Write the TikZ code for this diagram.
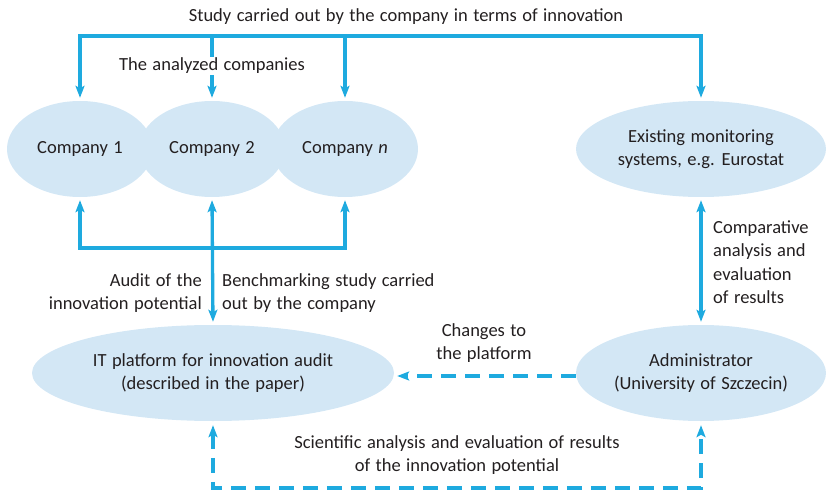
\documentclass[tikz,border=0pt]{standalone}
\usepackage{fontspec}
\setmainfont[WordSpace=1.3]{Carlito}
\usetikzlibrary{arrows.meta,shapes.geometric}
\definecolor{lineblue}{HTML}{1EAADF}
\definecolor{fillblue}{HTML}{D3E7F5}
\definecolor{txt}{HTML}{231F20}
\tikzset{
  tip/.tip={Stealth[length=12pt,width=9pt,inset=2.5pt]},
  oval/.style={ellipse, fill=fillblue, draw=none, inner sep=0pt, align=center, text=txt, font=\fontsize{18.5}{23.5}\selectfont},
  conn/.style={draw=lineblue, line width=3.3pt, -tip, shorten >=3pt},
  plain/.style={draw=lineblue, line width=3.3pt},
  dconn/.style={draw=lineblue, line width=3.3pt, dash pattern=on 15pt off 9pt},
  lbl/.style={text=txt, font=\fontsize{18.5}{23.5}\selectfont, inner sep=1pt},
}
\begin{document}
\begin{tikzpicture}[x=1pt,y=-1pt]
\useasboundingbox (0,0) rectangle (830,492);
% ellipses
\node[oval, minimum width=146pt, minimum height=96pt] (c1) at (80,149) {Company 1};
\node[oval, minimum width=146pt, minimum height=96pt] (c2) at (212,149) {Company 2};
\node[oval, minimum width=146pt, minimum height=96pt] (c3) at (345,149) {Company \textit{n}};
\node[oval, minimum width=250pt, minimum height=96pt] (ex) at (701,149) {Existing monitoring\\systems, e.g. Eurostat};
\node[oval, minimum width=362pt, minimum height=96pt] (it) at (213,373) {IT platform for innovation audit\\(described in the paper)};
\node[oval, minimum width=250pt, minimum height=96pt] (ad) at (701,373) {Administrator\\(University of Szczecin)};
% top distribution
\node[lbl] (title) at (406,17) {Study carried out by the company in terms of innovation};
\coordinate (t1) at (80,36);
\coordinate (t2) at (212,36);
\coordinate (t3) at (345,36);
\coordinate (t4) at (701,36);
\draw[plain] ([xshift=-1.65pt]t1) -- ([xshift=1.65pt]t4);
\draw[conn] (t1) -- (c1.north);
\draw[conn] (t2) -- (c2.north);
\draw[conn] (t3) -- (c3.north);
\draw[conn] (t4) -- (ex.north);
\node[lbl, fill=white] (an) at (212,66) {The analyzed companies};
% bottom of companies
\coordinate (b1) at (80,248);
\coordinate (b3) at (345,248);
\draw[plain] ([xshift=-1.65pt]b1) -- ([xshift=1.65pt]b3);
\draw[conn] (b1) -- (c1.south);
\draw[conn] (b3) -- (c3.south);
\draw[conn, tip-tip, shorten <=3pt] (c2.south) -- (it.north);
\node[lbl, anchor=east, align=right] (aud) at (203,293) {Audit of the\\innovation potential};
\node[lbl, anchor=west, align=left] (ben) at (221,293) {Benchmarking study carried\\out by the company};
% right
\draw[conn, tip-tip, shorten <=3pt] (ex.south) -- (ad.north);
\node[lbl, anchor=west, align=left] (cmp) at (712,262) {Comparative\\analysis and\\evaluation\\of results};
% changes
\draw[dconn, -tip, shorten >=3pt] ([yshift=-3pt]ad.west) -- ([yshift=-3pt]it.east);
\node[lbl, align=center] (chg) at (484,343) {Changes to\\the platform};
% bottom dashed loop
\coordinate (l1) at (213,488);
\coordinate (l2) at (701,488);
\draw[dconn, tip-tip, shorten <=4pt, shorten >=4pt] (it.south) -- (l1) -- (l2) -- (ad.south);
\node[lbl, align=center] (sci) at (457,455) {Scientific analysis and evaluation of results\\of the innovation potential};
\end{tikzpicture}
\end{document}
